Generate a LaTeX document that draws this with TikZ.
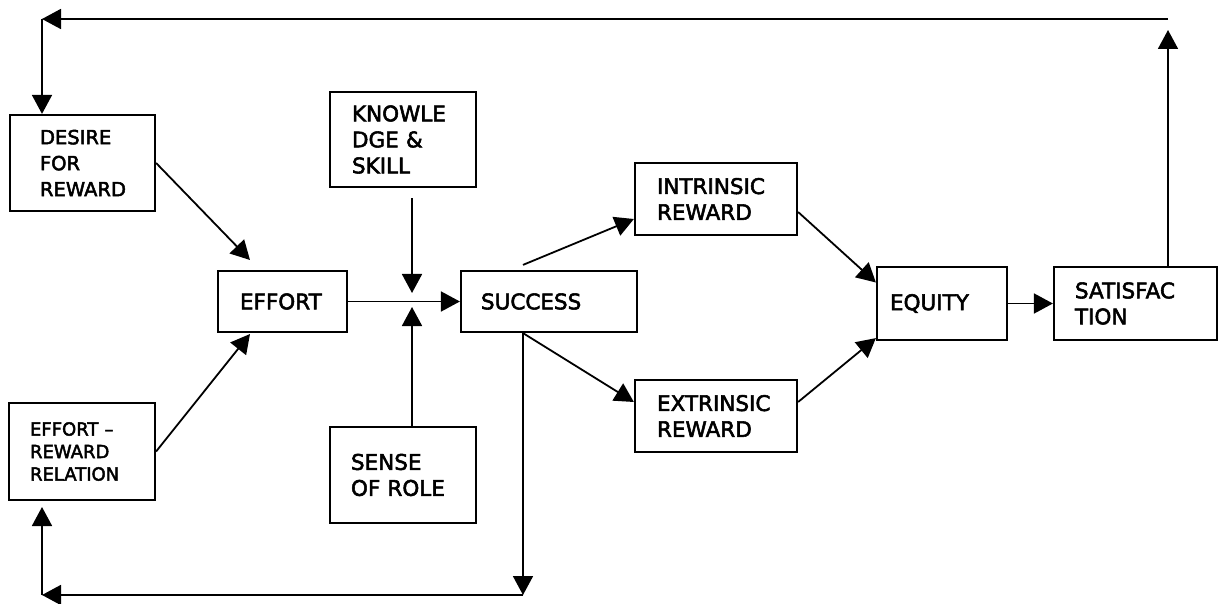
\documentclass[tikz,border=0pt]{standalone}
\usepackage{fontspec}
\setmainfont[FakeBold=2.5]{DejaVu Sans}
\usetikzlibrary{arrows.meta,calc}
\begin{document}
\begin{tikzpicture}[x=1pt,y=-1pt,
    blk/.style={draw,line width=2.2pt,align=left,inner ysep=0pt,
      font=\fontsize{21.5}{26}\selectfont},
    arr/.style={line width=1.8pt,-{Triangle[length=19pt,width=20pt]}}]
  \useasboundingbox (0,0) rectangle (1224,604);

  % boxes
  \node[blk,font=\fontsize{19.5}{26}\selectfont,text width=85pt,inner xsep=30pt,minimum height=96pt] (desire) at (82.5,163) {DESIRE\\FOR\\REWARD};
  \node[blk,font=\fontsize{18}{22.5}\selectfont,text width=104pt,inner xsep=21pt,minimum height=97pt] (err) at (82,451.5) {EFFORT –\\REWARD\\RELATION};
  \node[blk,text width=85pt,inner xsep=22pt,minimum height=61pt] (effort) at (282.5,301.5) {EFFORT};
  \node[blk,text width=102pt,inner xsep=22pt,minimum height=95pt] (know) at (403,139.5) {KNOWLE\\DGE \&\\SKILL};
  \node[blk,text width=104pt,inner xsep=21pt,minimum height=96pt] (sense) at (403,475) {SENSE\\OF ROLE};
  \node[blk,text width=136pt,inner xsep=20pt,minimum height=61pt] (success) at (549,301.5) {SUCCESS};
  \node[blk,text width=118pt,inner xsep=22pt,minimum height=72pt] (intr) at (716,199) {INTRINSIC\\REWARD};
  \node[blk,text width=118pt,inner xsep=22pt,minimum height=72pt] (extr) at (716,416) {EXTRINSIC\\REWARD};
  \node[blk,text width=104pt,inner xsep=13pt,minimum height=73pt] (equity) at (942,303.5) {EQUITY};
  \node[blk,text width=121pt,inner xsep=21pt,minimum height=73pt] (satis) at (1135.5,303.5) {SATISFAC\\TION};

  % corners and free ends
  \coordinate (topL) at (42,19);
  \coordinate (topR) at (1168,19);
  \coordinate (satUp) at (1168,30);
  \coordinate (jTop) at (412,293);
  \coordinate (jBot) at (412,307);
  \coordinate (sDn) at (523,595);
  \coordinate (botL) at (42,595);
  \coordinate (errUp) at (42,507);
  \coordinate (effIn1) at (250,260);
  \coordinate (effIn2) at (250,334);

  % feedback loop on top
  \draw[arr] (satis.north -| satUp) -- (satUp);
  \draw[arr] (topR) -- (topL);
  \draw[arr] (topL) -- (topL |- desire.north);

  % into effort and success
  \draw[arr] (desire.east) -- (effIn1);
  \draw[arr] (err.east) -- (effIn2);
  \draw[arr] (effort.east) -- (success.west);
  \draw[arr,shorten <=10pt] (know.south -| jTop) -- (jTop);
  \draw[arr] (sense.north -| jBot) -- (jBot);

  % rewards
  \draw[arr] ($(success.north -| sDn)+(0,-5)$) -- ($(intr.west)+(0,20)$);
  \draw[arr] (success.south -| sDn) -- ($(extr.west)+(0,-14)$);
  \draw[arr] ($(intr.east)+(0,13)$) -- ($(equity.west)+(0,-21)$);
  \draw[arr] ($(extr.east)+(0,-14)$) -- ($(equity.south west)+(0,-3)$);
  \draw[arr] (equity.east) -- (satis.west);

  % feedback loop below
  \draw[arr] (success.south -| sDn) -- (sDn);
  \draw[arr] (sDn) -- (botL);
  \draw[arr] (botL) -- (errUp);
\end{tikzpicture}
\end{document}
